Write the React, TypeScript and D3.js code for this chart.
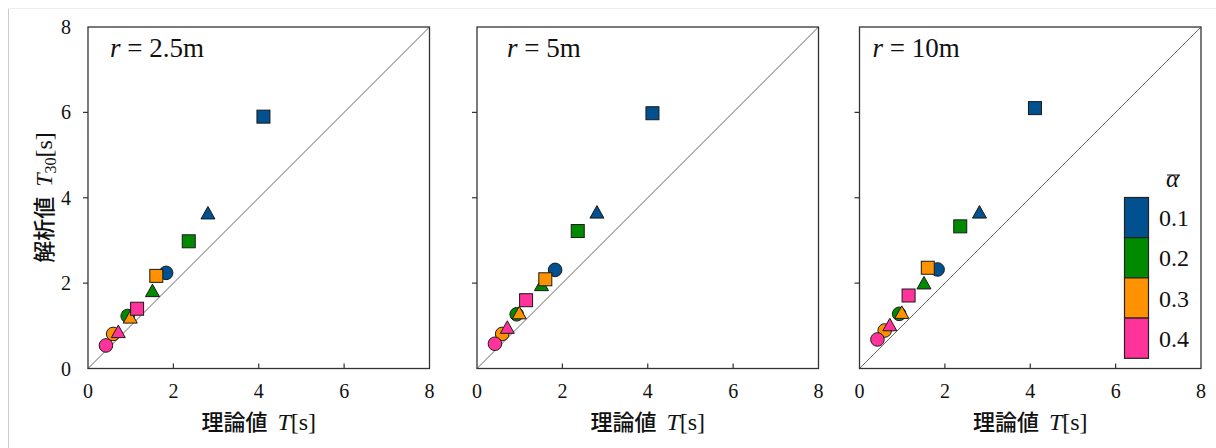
import React from "react";
import * as d3 from "d3";

// ---- data ----
const panelLabels = ["2.5m", "5m", "10m"];
const alphaLabels = ["0.1", "0.2", "0.3", "0.4"];
const colors = ["#01508f", "#008a00", "#ff9200", "#ff3399"];
const shapes = ["circle", "triangle", "square"];
const ticks = [0, 2, 4, 6, 8];

// theoretical T (x) by alpha: [circle, triangle, square]
const theoryBlue = [1.83, 2.81, 4.11];
const theoryGreen = [0.93, 1.51, 2.36];
const theoryOrange = [0.59, 0.99, 1.6];
const theoryPink = [0.42, 0.71, 1.15];

// simulated T30 (y), r = 2.5m
const simA_Blue = [2.24, 3.65, 5.9];
const simA_Green = [1.23, 1.83, 2.98];
const simA_Orange = [0.81, 1.21, 2.17];
const simA_Pink = [0.54, 0.87, 1.4];
// r = 5m
const simB_Blue = [2.31, 3.67, 5.98];
const simB_Green = [1.27, 1.97, 3.22];
const simB_Orange = [0.81, 1.31, 2.09];
const simB_Pink = [0.58, 0.97, 1.6];
// r = 10m
const simC_Blue = [2.32, 3.67, 6.1];
const simC_Green = [1.28, 2.01, 3.33];
const simC_Orange = [0.89, 1.32, 2.36];
const simC_Pink = [0.68, 1.03, 1.71];

const theory = [theoryBlue, theoryGreen, theoryOrange, theoryPink];
const sims = [
  [simA_Blue, simA_Green, simA_Orange, simA_Pink],
  [simB_Blue, simB_Green, simB_Orange, simB_Pink],
  [simC_Blue, simC_Green, simC_Orange, simC_Pink],
];

// ---- layout ----
const panelLeft = [88, 477, 859.5];
const labelOffset = [22, 30, 13];
const TOP = 27;
const SIZE = 341.5;
const SERIF = "Liberation Serif, Times New Roman, serif";
const CJK = "Noto Sans CJK JP, Noto Sans CJK SC, sans-serif";

const serif = (size: number, italic = false): React.CSSProperties => ({
  fontFamily: SERIF,
  fontSize: size,
  fontStyle: italic ? "italic" : "normal",
});

function Marker({ shape, cx, cy, fill }: { shape: string; cx: number; cy: number; fill: string }) {
  const stroke = "#1a1a1a";
  if (shape === "circle") return <circle cx={cx} cy={cy} r={6.8} fill={fill} stroke={stroke} strokeWidth={1} />;
  if (shape === "square")
    return <rect x={cx - 6.5} y={cy - 6.5} width={13} height={13} fill={fill} stroke={stroke} strokeWidth={1} />;
  const w = 14, h = 12.5;
  const p = d3.path();
  p.moveTo(cx, cy - h / 2);
  p.lineTo(cx + w / 2, cy + h / 2);
  p.lineTo(cx - w / 2, cy + h / 2);
  p.closePath();
  return <path d={p.toString()} fill={fill} stroke={stroke} strokeWidth={1} />;
}

function Panel({ idx }: { idx: number }) {
  const left = panelLeft[idx];
  const x = d3.scaleLinear().domain([0, 8]).range([left, left + SIZE]);
  const y = d3.scaleLinear().domain([0, 8]).range([TOP + SIZE, TOP]);
  const data = sims[idx];
  const cx = left + SIZE / 2;
  return (
    <g>
      <line x1={x(0)} y1={y(0)} x2={x(8)} y2={y(8)} stroke="#555" strokeWidth={0.9} />
      {ticks.slice(1, -1).map((t) => (
        <g key={"t" + t}>
          <line x1={x(t)} x2={x(t)} y1={y(0)} y2={y(0) - 5} stroke="#333" strokeWidth={1.2} />
          <line x1={x(0)} x2={x(0) - 5} y1={y(t)} y2={y(t)} stroke="#333" strokeWidth={1.2} />
        </g>
      ))}
      {colors.map((c, ci) =>
        shapes.map((s, si) => (
          <Marker key={ci + "-" + si} shape={s} cx={x(theory[ci][si])} cy={y(data[ci][si])} fill={c} />
        ))
      )}
      <rect x={left} y={TOP} width={SIZE} height={SIZE} fill="none" stroke="#333" strokeWidth={1.3} />
      {ticks.map((t) => (
        <text key={"xl" + t} x={x(t)} y={398} textAnchor="middle" style={serif(20)} fill="#111">
          {t}
        </text>
      ))}
      {idx === 0 &&
        ticks.map((t) => (
          <text key={"yl" + t} x={71} y={y(t) + 7} textAnchor="end" style={serif(20)} fill="#111">
            {t}
          </text>
        ))}
      <text x={cx} y={430} textAnchor="middle" fill="#111" style={{ fontSize: 22 }}>
        <tspan style={{ fontFamily: CJK, fontWeight: 500 }}>理論値</tspan>
        <tspan style={serif(24, true)} dx={10}>T</tspan>
        <tspan style={serif(24)}>[s]</tspan>
      </text>
      <text x={left + labelOffset[idx]} y={57} fill="#111" style={serif(27)}>
        <tspan style={serif(27, true)}>r</tspan>
        <tspan> = {panelLabels[idx]}</tspan>
      </text>
    </g>
  );
}

function Legend() {
  const bx = 1124.5, bw = 24, top = 197.5, bh = 40.2;
  const ly = d3.scaleBand().domain(alphaLabels).range([top, top + bh * 4]);
  return (
    <g>
      <text x={1166} y={187} style={serif(25, true)} fill="#111">α</text>
      <line x1={1167} x2={1180} y1={175} y2={175} stroke="#111" strokeWidth={1} />
      {alphaLabels.map((a, i) => (
        <g key={a}>
          <rect x={bx} y={ly(a)!} width={bw} height={ly.bandwidth()} fill={colors[i]} stroke="#222" strokeWidth={1.2} />
          <text x={1159} y={ly(a)! + ly.bandwidth() / 2 + 8.5} style={serif(24)} fill="#111">
            {a}
          </text>
        </g>
      ))}
    </g>
  );
}

export default function App() {
  return (
    <svg width={1216} height={448} style={{ position: "absolute", left: 0, top: 0, background: "#fff" }}>
      <rect x={0} y={0} width={1216} height={448} fill="#fff" />
      <line x1={8} x2={1216} y1={8.5} y2={8.5} stroke="#eee" strokeWidth={1} />
      <line x1={8.5} x2={8.5} y1={9} y2={448} stroke="#ccc" strokeWidth={1} />
      {[0, 1, 2].map((i) => (
        <Panel key={i} idx={i} />
      ))}
      <g transform="translate(52,197.5) rotate(-90)">
        <text x={0} y={0} textAnchor="middle" fill="#111" style={{ fontSize: 22 }}>
          <tspan style={{ fontFamily: CJK, fontWeight: 500 }}>解析値</tspan>
          <tspan style={serif(24, true)} dx={10}>T</tspan>
          <tspan style={serif(16)} dy={4}>30</tspan>
          <tspan style={serif(24)} dy={-4}>[s]</tspan>
        </text>
      </g>
      <Legend />
    </svg>
  );
}
